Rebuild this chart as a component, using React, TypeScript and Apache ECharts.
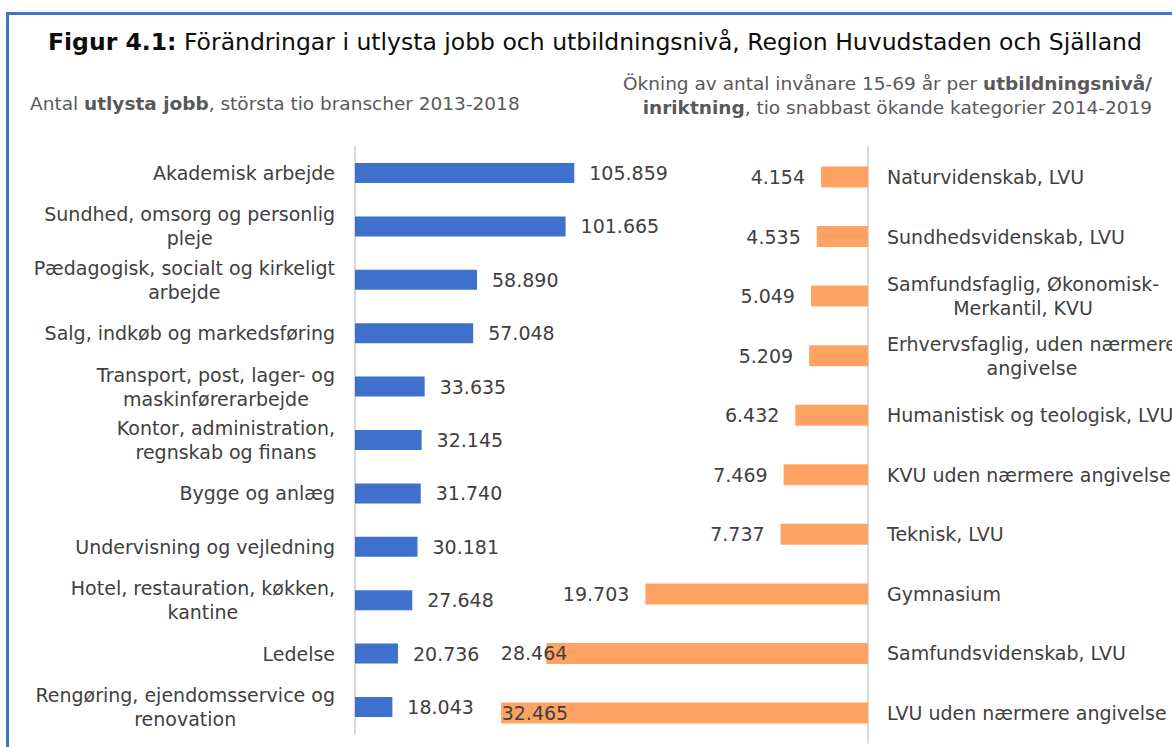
import React, { useEffect, useRef } from "react";
import * as echarts from "echarts";

const jobCategories = [
  "Akademisk arbejde",
  "Sundhed, omsorg og personlig\npleje",
  "Pædagogisk, socialt og kirkeligt\narbejde",
  "Salg, indkøb og markedsføring",
  "Transport, post, lager- og\nmaskinførerarbejde",
  "Kontor, administration,\nregnskab og finans",
  "Bygge og anlæg",
  "Undervisning og vejledning",
  "Hotel, restauration, køkken,\nkantine",
  "Ledelse",
  "Rengøring, ejendomsservice og\nrenovation",
];
const jobValues = [105859, 101665, 58890, 57048, 33635, 32145, 31740, 30181, 27648, 20736, 18043];

const eduCategories = [
  "Naturvidenskab, LVU",
  "Sundhedsvidenskab, LVU",
  "Samfundsfaglig, Økonomisk-\nMerkantil, KVU",
  "Erhvervsfaglig, uden nærmere\nangivelse",
  "Humanistisk og teologisk, LVU",
  "KVU uden nærmere angivelse",
  "Teknisk, LVU",
  "Gymnasium",
  "Samfundsvidenskab, LVU",
  "LVU uden nærmere angivelse",
];
const eduValues = [4154, 4535, 5049, 5209, 6432, 7469, 7737, 19703, 28464, 32465];

// label horizontal shifts (styling) for labels clamped inside the plot area
const eduLabelShift = [0, 0, 0, 0, 0, 0, 0, 0, 37, 83];

const FONT = "DejaVu Sans";
const TEXT = "#404040";

const fmt = (v: number) => String(v).replace(/\B(?=(\d{3})+(?!\d))/g, ".");

const richCenter = {
  c: { align: "center", fontSize: 19, fontFamily: FONT, color: TEXT, lineHeight: 24 },
};
const catFormatter = (value: string) =>
  value
    .split("\n")
    .map((l) => `{c|${l}}`)
    .join("\n");

export default function App() {
  const ref = useRef<HTMLDivElement>(null);
  useEffect(() => {
    document.body.style.margin = "0";
    const chart = echarts.init(ref.current!, undefined, { renderer: "svg" });
    chart.setOption({
      animation: false,
      backgroundColor: "#ffffff",
      textStyle: { fontFamily: FONT },
      graphic: [
        {
          type: "rect",
          shape: { x: 7.5, y: 13.5, width: 1400, height: 1000 },
          style: { fill: "none", stroke: "#4472C4", lineWidth: 3 },
          silent: true,
        },
        {
          type: "text",
          x: 48,
          y: 42,
          style: {
            text: "{b|Figur 4.1:} Förändringar i utlysta jobb och utbildningsnivå, Region Huvudstaden och Själland",
            fontSize: 23.5,
            fontFamily: FONT,
            fill: "#0d0d0d",
            verticalAlign: "middle",
            align: "left",
            rich: {
              b: { fontWeight: "bold", fontSize: 23.5, fontFamily: FONT, fill: "#0d0d0d" },
            },
          },
        },
        {
          type: "text",
          x: 30,
          y: 103,
          style: {
            text: "Antal {b|utlysta jobb}, största tio branscher 2013-2018",
            fontSize: 18.5,
            fontFamily: FONT,
            fill: "#595959",
            verticalAlign: "middle",
            align: "left",
            rich: {
              b: { fontWeight: "bold", fontSize: 18.5, fontFamily: FONT, fill: "#595959" },
            },
          },
        },
        {
          type: "text",
          x: 1152,
          y: 95,
          style: {
            text:
              "Ökning av antal invånare 15-69 år per {b|utbildningsnivå/}\n{b|inriktning}, tio snabbast ökande kategorier 2014-2019",
            fontSize: 18.5,
            fontFamily: FONT,
            fill: "#595959",
            verticalAlign: "middle",
            align: "right",
            lineHeight: 24,
            rich: {
              b: { fontWeight: "bold", fontSize: 18.5, fontFamily: FONT, fill: "#595959", lineHeight: 24 },
            },
          },
        },
      ],
      grid: [
        { left: 355, top: 146.3, width: 290, height: 587.4, containLabel: false, outerBoundsMode: "none" },
        { left: 416, top: 147.2, width: 452, height: 595.6, containLabel: false, outerBoundsMode: "none" },
      ],
      xAxis: [
        { gridIndex: 0, type: "value", min: 0, max: 140000, show: false },
        { gridIndex: 1, type: "value", min: 0, max: 40000, inverse: true, show: false },
      ],
      yAxis: [
        {
          gridIndex: 0,
          type: "category",
          data: jobCategories,
          inverse: true,
          position: "left",
          axisLine: { show: true, lineStyle: { color: "#D9D9D9", width: 2 } },
          axisTick: { show: false },
          splitLine: { show: false },
          axisLabel: {
            interval: 0,
            margin: 20,
            align: "right",
            fontSize: 19,
            fontFamily: FONT,
            color: TEXT,
            lineHeight: 24,
            formatter: catFormatter,
            rich: richCenter,
          },
        },
        {
          gridIndex: 1,
          type: "category",
          data: eduCategories,
          inverse: true,
          position: "right",
          axisLine: { show: true, lineStyle: { color: "#D9D9D9", width: 2 } },
          axisTick: { show: false },
          splitLine: { show: false },
          axisLabel: {
            interval: 0,
            margin: 19,
            align: "left",
            fontSize: 19,
            fontFamily: FONT,
            color: TEXT,
            lineHeight: 24,
            formatter: catFormatter,
            rich: richCenter,
          },
        },
      ],
      series: [
        {
          type: "bar",
          xAxisIndex: 0,
          yAxisIndex: 0,
          data: jobValues,
          barWidth: 20,
          itemStyle: { color: "#3F70CB" },
          label: {
            show: true,
            position: "right",
            distance: 15,
            fontSize: 19,
            fontFamily: FONT,
            color: TEXT,
            formatter: (p: any) => fmt(p.value),
          },
        },
        {
          type: "bar",
          xAxisIndex: 1,
          yAxisIndex: 1,
          data: eduValues.map((v, i) =>
            eduLabelShift[i] ? { value: v, label: { offset: [eduLabelShift[i], 0] } } : v
          ),
          barWidth: 21,
          itemStyle: { color: "#FFA365" },
          label: {
            show: true,
            position: "left",
            distance: 16,
            fontSize: 19,
            fontFamily: FONT,
            color: TEXT,
            formatter: (p: any) => fmt(p.value),
          },
        },
      ],
    });
    return () => chart.dispose();
  }, []);
  return <div ref={ref} style={{ width: 1172, height: 747 }} />;
}
